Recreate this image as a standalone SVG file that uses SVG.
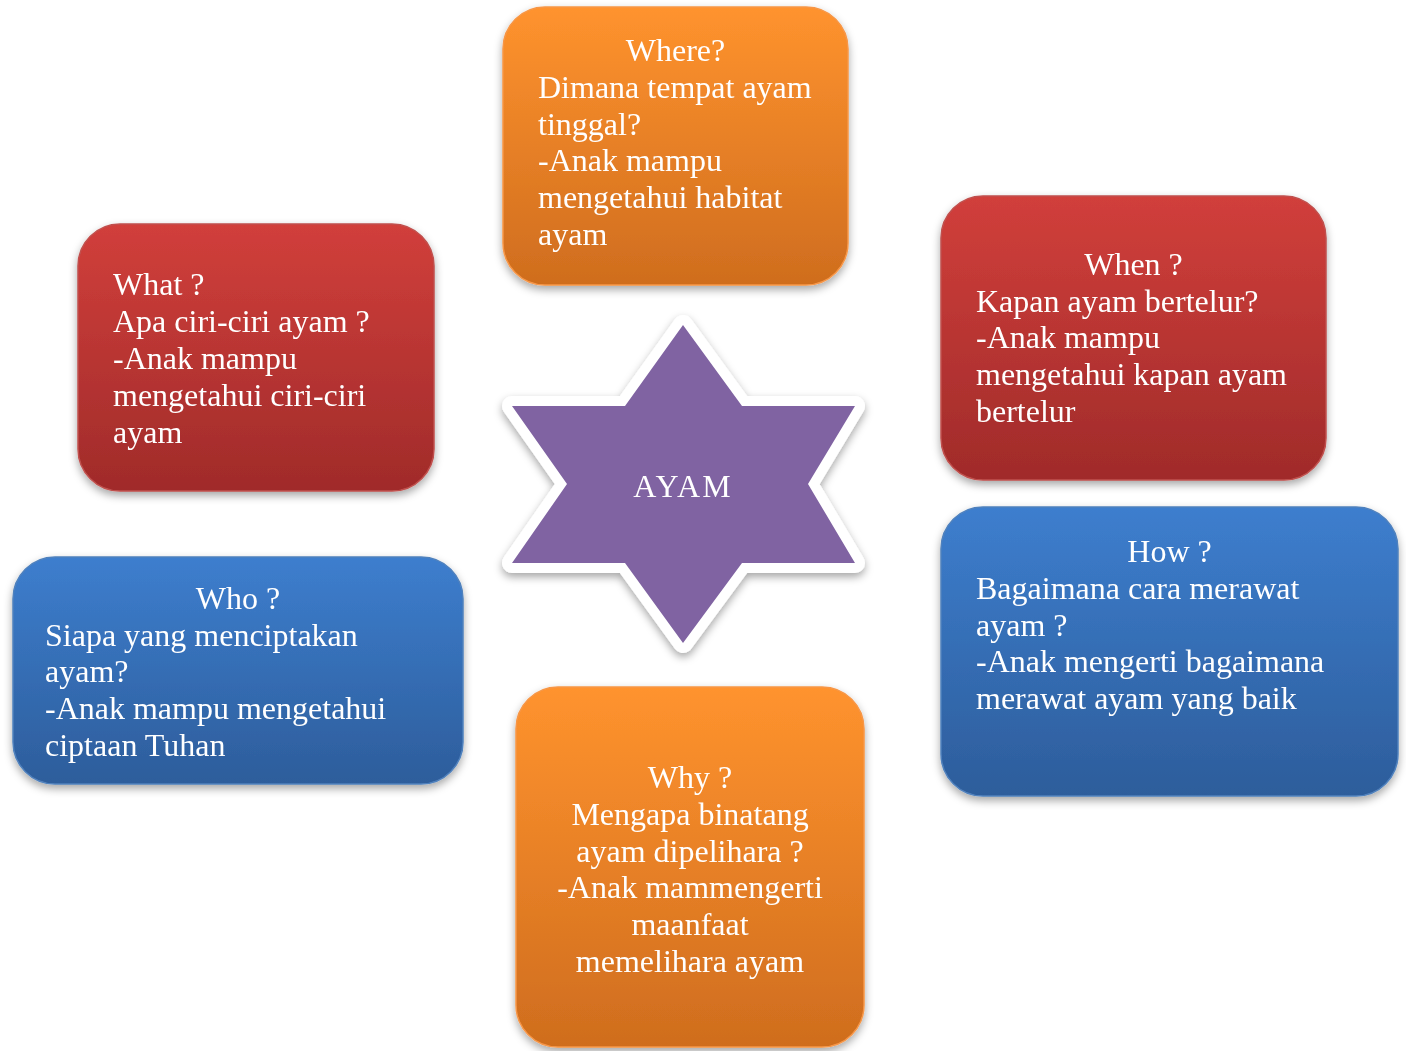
<svg xmlns="http://www.w3.org/2000/svg" width="1406" height="1051" viewBox="0 0 1406 1051">
<defs>
<linearGradient id="gOrange" x1="0" y1="0" x2="0" y2="1">
<stop offset="0" stop-color="#FF932E"/>
<stop offset="1" stop-color="#CF6D1E"/>
</linearGradient>
<linearGradient id="gRed" x1="0" y1="0" x2="0" y2="1">
<stop offset="0" stop-color="#D13F3B"/>
<stop offset="1" stop-color="#A02B2A"/>
</linearGradient>
<linearGradient id="gBlue" x1="0" y1="0" x2="0" y2="1">
<stop offset="0" stop-color="#3D7ECE"/>
<stop offset="1" stop-color="#2D5D9B"/>
</linearGradient>
<filter id="shadow" x="-10%" y="-10%" width="120%" height="125%">
<feDropShadow dx="0" dy="4" stdDeviation="4" flood-color="#000" flood-opacity="0.35"/>
</filter>
</defs>
<style>
.t{font-family:"Liberation Serif","Times New Roman",serif;font-size:32px;fill:#fff}
.c{text-anchor:middle}
.orange{fill:url(#gOrange);stroke:#F79646;stroke-width:1.5}
.red{fill:url(#gRed);stroke:#C0504D;stroke-width:1.5}
.blue{fill:url(#gBlue);stroke:#4F81BD;stroke-width:1.5}
</style>
<rect width="1406" height="1051" fill="#fff"/>
<g id="connectors"></g>
<g id="where" filter="url(#shadow)">
<rect class="orange" x="503" y="7" width="345" height="278" rx="42"/>
<text class="t c" x="675.5" y="61">Where?</text>
<text class="t" x="538" y="98">Dimana tempat ayam</text>
<text class="t" x="538" y="135">tinggal?</text>
<text class="t" x="538" y="171">-Anak mampu</text>
<text class="t" x="538" y="208">mengetahui habitat</text>
<text class="t" x="538" y="245">ayam</text>
</g>
<g id="what" filter="url(#shadow)">
<rect class="red" x="78" y="224" width="356" height="267" rx="42"/>
<text class="t" x="113" y="295">What ?</text>
<text class="t" x="113" y="332">Apa ciri-ciri ayam ?</text>
<text class="t" x="113" y="369">-Anak mampu</text>
<text class="t" x="113" y="406">mengetahui ciri-ciri</text>
<text class="t" x="113" y="443">ayam</text>
</g>
<g id="when" filter="url(#shadow)">
<rect class="red" x="941" y="196" width="385" height="284" rx="42"/>
<text class="t c" x="1133.5" y="275">When ?</text>
<text class="t" x="976" y="312">Kapan ayam bertelur?</text>
<text class="t" x="976" y="348">-Anak mampu</text>
<text class="t" x="976" y="385">mengetahui kapan ayam</text>
<text class="t" x="976" y="422">bertelur</text>
</g>
<g id="who" filter="url(#shadow)">
<rect class="blue" x="13" y="557" width="450" height="227" rx="42"/>
<text class="t c" x="238" y="609">Who ?</text>
<text class="t" x="45" y="646">Siapa yang menciptakan</text>
<text class="t" x="45" y="682">ayam?</text>
<text class="t" x="45" y="719">-Anak mampu mengetahui</text>
<text class="t" x="45" y="756">ciptaan Tuhan</text>
</g>
<g id="how" filter="url(#shadow)">
<rect class="blue" x="941" y="507" width="457" height="289" rx="42"/>
<text class="t c" x="1169.5" y="562">How ?</text>
<text class="t" x="976" y="599">Bagaimana cara merawat</text>
<text class="t" x="976" y="636">ayam ?</text>
<text class="t" x="976" y="672">-Anak mengerti bagaimana</text>
<text class="t" x="976" y="709">merawat ayam yang baik</text>
</g>
<g id="why" filter="url(#shadow)">
<rect class="orange" x="516" y="687" width="348" height="360" rx="42"/>
<text class="t c" x="690" y="788">Why ?</text>
<text class="t c" x="690" y="825">Mengapa binatang</text>
<text class="t c" x="690" y="862">ayam dipelihara ?</text>
<text class="t c" x="690" y="898">-Anak mammengerti</text>
<text class="t c" x="690" y="935">maanfaat</text>
<text class="t c" x="690" y="972">memelihara ayam</text>
</g>
<g id="ayam" filter="url(#shadow)">
<polygon points="683,325 625,406 512,406 567,484 512,563 625,563 683,643 742,563 855,563 808,484 855,406 742,406" fill="#8064A2" stroke="#fff" stroke-width="20" stroke-linejoin="round" paint-order="stroke"/>
<text class="t c" x="683" y="497" letter-spacing="2">AYAM</text>
</g>
</svg>
